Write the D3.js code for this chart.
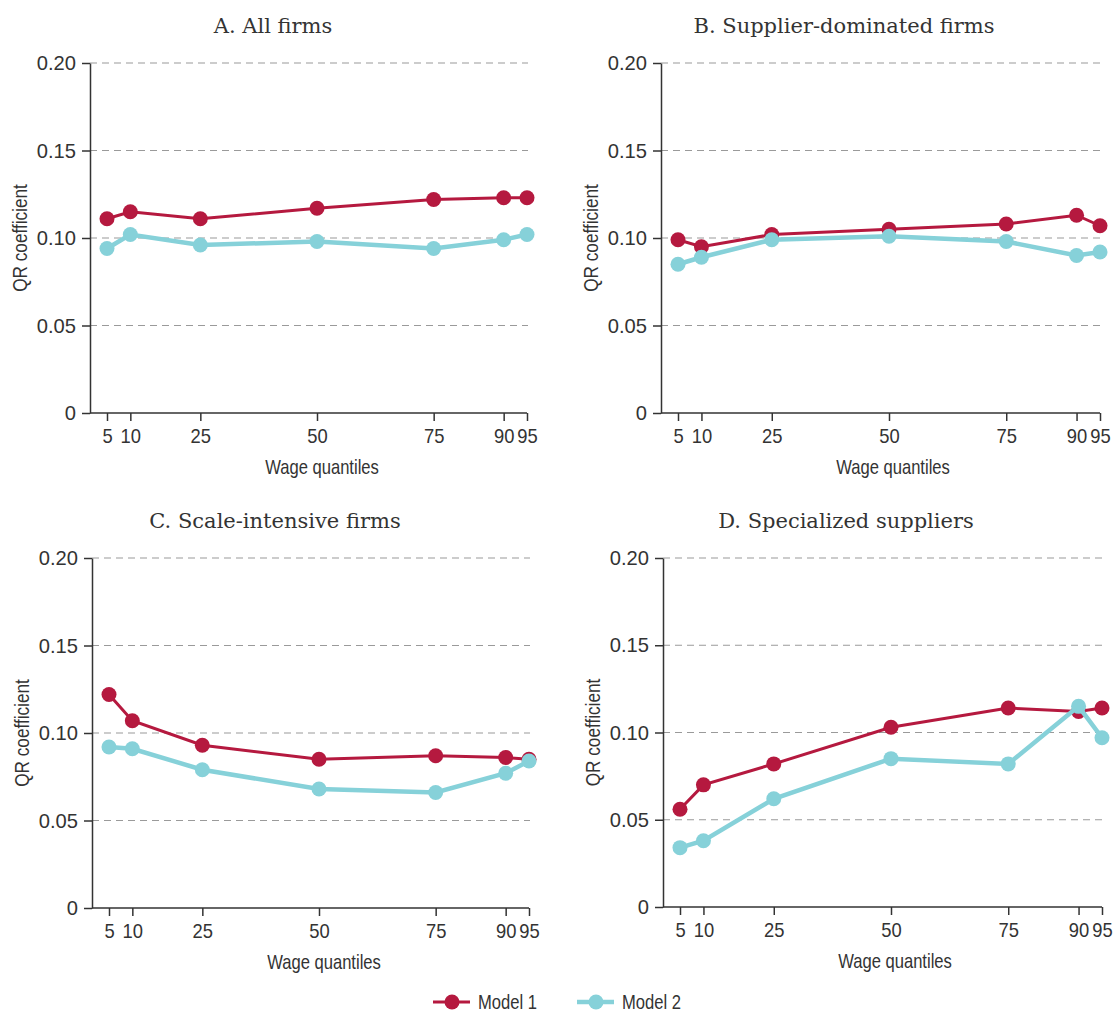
<!DOCTYPE html>
<html>
<head>
<meta charset="utf-8">
<script src="https://cdn.jsdelivr.net/npm/d3@7"></script>
<style>
    body { margin: 0; background: #fff; }
    svg { display: block; }
</style>
</head>
<body>
<div id="chart"></div>
<script>
// Data
const quantiles = [5, 10, 25, 50, 75, 90, 95];
const yTicks = [0, 0.05, 0.10, 0.15, 0.20];
const panelTitles = ["A. All firms", "B. Supplier-dominated firms", "C. Scale-intensive firms", "D. Specialized suppliers"];
const seriesNames = ["Model 1", "Model 2"];
const seriesColors = ["#b5193f", "#86d1d9"];

const model1 = [
    [0.111, 0.115, 0.111, 0.117, 0.122, 0.123, 0.123],
    [0.099, 0.095, 0.102, 0.105, 0.108, 0.113, 0.107],
    [0.122, 0.107, 0.093, 0.085, 0.087, 0.086, 0.085],
    [0.056, 0.070, 0.082, 0.103, 0.114, 0.112, 0.114]
];
const model2 = [
    [0.094, 0.102, 0.096, 0.098, 0.094, 0.099, 0.102],
    [0.085, 0.089, 0.099, 0.101, 0.098, 0.090, 0.092],
    [0.092, 0.091, 0.079, 0.068, 0.066, 0.077, 0.084],
    [0.034, 0.038, 0.062, 0.085, 0.082, 0.115, 0.097]
];

const width = 1116, height = 1012;
const sansFont = "'Liberation Sans', Arial, sans-serif";
const serifFont = "'DejaVu Serif', serif";
const ink = "#333";

// Panel placement (axis origin and plot size)
const panels = [
    { left: 90, top: 63, w: 438, h: 350 },
    { left: 661, top: 63, w: 440, h: 350 },
    { left: 92, top: 558, w: 438, h: 350 },
    { left: 663, top: 558, w: 440, h: 349 }
];

const svg = d3.select("#chart")
    .append("svg")
    .attr("width", width)
    .attr("height", height);

// No narrow sans is installed, so squeeze Liberation Sans horizontally
function sansText(sel, size, squeeze) {
    sel.attr("fill", ink)
        .style("font-family", sansFont)
        .style("font-size", size + "px")
        .attr("transform", `scale(${squeeze},1)`);
}

panels.forEach((p, i) => {
    const g = svg.append("g").attr("transform", `translate(${p.left},${p.top})`);

    const x = d3.scaleLinear().domain([5, 95]).range([17, p.w - 1]);
    const y = d3.scaleLinear().domain([0, 0.2]).range([p.h, 0]);

    // Dashed gridlines
    g.append("g")
        .selectAll("line")
        .data(yTicks.filter(d => d > 0))
        .enter()
        .append("line")
        .attr("x1", 0)
        .attr("x2", p.w)
        .attr("y1", d => y(d))
        .attr("y2", d => y(d))
        .attr("stroke", "#9a9a9a")
        .attr("stroke-width", 1.2)
        .attr("stroke-dasharray", "7,5");

    // Y axis
    const yAxis = g.append("g")
        .call(d3.axisLeft(y)
            .tickValues(yTicks)
            .tickFormat(d => d === 0 ? "0" : d3.format(".2f")(d))
            .tickSize(8)
            .tickSizeOuter(0)
            .tickPadding(6));
    const ySq = 0.96;
    yAxis.selectAll("text")
        .call(sansText, 21, ySq)
        .attr("x", -14 / ySq);

    // X axis, with its own baseline starting at the y axis
    const xAxis = g.append("g")
        .attr("transform", `translate(0,${p.h})`)
        .call(d3.axisBottom(x)
            .tickValues(quantiles)
            .tickSize(8)
            .tickSizeOuter(0)
            .tickPadding(8));
    xAxis.select(".domain").remove();
    xAxis.append("line")
        .attr("x1", 0)
        .attr("x2", p.w - 1)
        .attr("stroke", ink);
    xAxis.selectAll("text").call(sansText, 20, 0.92);

    [yAxis, xAxis].forEach(a => {
        a.selectAll("line, path").attr("stroke", ink).attr("stroke-width", 1.5);
    });

    // Axis titles
    g.append("g")
        .attr("transform", `translate(-63,${p.h / 2}) rotate(-90)`)
        .append("text")
        .attr("text-anchor", "middle")
        .call(sansText, 20, 0.86)
        .text("QR coefficient");

    g.append("g")
        .attr("transform", `translate(232,${p.h + 61})`)
        .append("text")
        .attr("text-anchor", "middle")
        .call(sansText, 20, 0.83)
        .text("Wage quantiles");

    // Panel title
    g.append("text")
        .attr("x", 183)
        .attr("y", -30)
        .attr("text-anchor", "middle")
        .attr("fill", ink)
        .style("font-family", serifFont)
        .style("font-size", "21px")
        .text(panelTitles[i]);

    // Lines and dots, Model 2 on top
    const line = d3.line()
        .x((d, k) => x(quantiles[k]))
        .y(d => y(d));

    [model1[i], model2[i]].forEach((vals, s) => {
        g.append("path")
            .datum(vals)
            .attr("d", line)
            .attr("fill", "none")
            .attr("stroke", seriesColors[s])
            .attr("stroke-width", s === 0 ? 3 : 4.5);

        g.append("g")
            .selectAll("circle")
            .data(vals)
            .enter()
            .append("circle")
            .attr("cx", (d, k) => x(quantiles[k]))
            .attr("cy", d => y(d))
            .attr("r", 7.5)
            .attr("fill", seriesColors[s]);
    });
});

// Legend
const legend = svg.append("g").attr("transform", "translate(433,1002)");
const legendItem = legend.selectAll("g")
    .data(seriesNames)
    .enter()
    .append("g")
    .attr("transform", (d, i) => `translate(${i * 144},0)`);

legendItem.append("line")
    .attr("x1", 0)
    .attr("x2", 37)
    .attr("stroke", (d, i) => seriesColors[i])
    .attr("stroke-width", (d, i) => i === 0 ? 3 : 4.5);

legendItem.append("circle")
    .attr("cx", 19)
    .attr("r", 7.5)
    .attr("fill", (d, i) => seriesColors[i]);

legendItem.append("g")
    .attr("transform", "translate(45,7)")
    .append("text")
    .call(sansText, 20, 0.83)
    .text(d => d);
</script>
</body>
</html>
